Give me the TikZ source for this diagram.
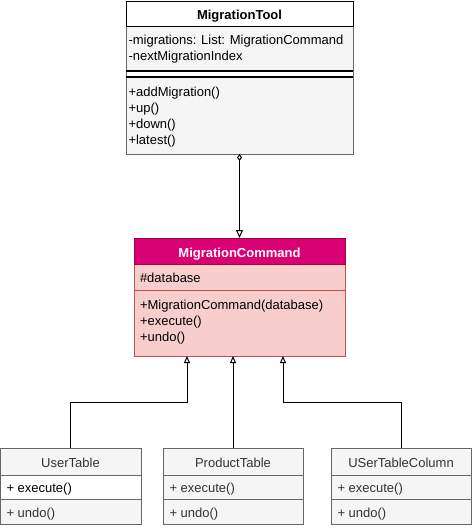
\documentclass[tikz,border=0pt]{standalone}
\usepackage{fontspec}
\setmainfont{Liberation Sans}
\usetikzlibrary{arrows.meta}
\definecolor{grayfill}{HTML}{F5F5F5}
\definecolor{graystroke}{HTML}{666666}
\definecolor{graytext}{HTML}{333333}
\definecolor{magfill}{HTML}{D80073}
\definecolor{magstroke}{HTML}{A50040}
\definecolor{pinkfill}{HTML}{F8CECC}
\definecolor{redstroke}{HTML}{B85450}
\begin{document}
\begin{tikzpicture}[x=1pt,y=-1pt,line width=1pt,
  txt/.style={anchor=base west,inner sep=0pt,font=\fontsize{13}{15}\selectfont},
  ttl/.style={anchor=base,inner sep=0pt,font=\fontsize{13}{15}\selectfont},
  boxnode/.style={inner sep=0pt,outer sep=0pt,anchor=north west},
  graysec/.style={fill=grayfill,draw=graystroke},
  inhtip/.style={-{Triangle[open,length=7pt,width=6pt]}},
  conn/.style={draw=black,line width=1pt}]
\path[use as bounding box,fill=white] (0,0) rectangle (473,528);

% ---------- MigrationTool ----------
\node[boxnode,minimum width=227pt,minimum height=153pt] (tool) at (126,1) {};
\draw[draw=graystroke,fill=white] (126,26) rectangle (353,154);
\draw[graysec] (126,26) rectangle (353,71);
\draw[graysec] (126,77) rectangle (353,154);
\draw[draw=black,line width=1.3pt] (126,71) -- (353,71);
\draw[draw=black,line width=1.3pt] (126,77) -- (353,77);
\draw[draw=black,fill=white] (126,1) rectangle (353,26);
\node[ttl,font=\fontsize{13}{15}\selectfont\bfseries] (tooltitle) at (239.5,19) {MigrationTool};
\node[txt] (toola1) at (128,44) {-migrations: List: MigrationCommand};
\node[txt] (toola2) at (128,60) {-nextMigrationIndex};
\node[txt] (toolm1) at (128,96) {+addMigration()};
\node[txt] (toolm2) at (128,112) {+up()};
\node[txt] (toolm3) at (128,128) {+down()};
\node[txt] (toolm4) at (128,144) {+latest()};

% ---------- MigrationCommand ----------
\node[boxnode,minimum width=211pt,minimum height=118pt] (cmd) at (134,238) {};
\draw[fill=pinkfill,draw=redstroke] (134,264) rectangle (345,356);
\draw[draw=redstroke] (134,290) -- (345,290);
\draw[fill=magfill,draw=magstroke] (134,238) rectangle (345,264);
\node[ttl,text=white,font=\fontsize{13}{15}\selectfont\bfseries] (cmdtitle) at (239.5,257) {MigrationCommand};
\node[txt] (cmda1) at (139.5,282.5) {\#database};
\node[txt] (cmdm1) at (139.5,309) {+MigrationCommand(database)};
\node[txt] (cmdm2) at (139.5,325) {+execute()};
\node[txt] (cmdm3) at (139.5,341) {+undo()};

% ---------- UserTable ----------
\node[boxnode,minimum width=141pt,minimum height=76pt] (ut) at (0,448) {};
\draw[graysec] (0,448) rectangle (141,475);
\draw[draw=graystroke,fill=white] (0,475) rectangle (141,499);
\draw[graysec] (0,499) rectangle (141,524);
\node[ttl,text=graytext] (uttitle) at (70.5,467) {UserTable};
\node[txt,text=black] (utm1) at (6,492.5) {+ execute()};
\node[txt,text=graytext] (utm2) at (6,517) {+ undo()};

% ---------- ProductTable ----------
\node[boxnode,minimum width=140pt,minimum height=76pt] (pt) at (163,448) {};
\draw[graysec] (163,448) rectangle (303,475);
\draw[graysec] (163,475) rectangle (303,499);
\draw[graysec] (163,499) rectangle (303,524);
\node[ttl,text=graytext] (pttitle) at (233,467) {ProductTable};
\node[txt,text=graytext] (ptm1) at (169,492.5) {+ execute()};
\node[txt,text=graytext] (ptm2) at (169,517) {+ undo()};

% ---------- USerTableColumn ----------
\node[boxnode,minimum width=140pt,minimum height=76pt] (uc) at (331,448) {};
\draw[graysec] (331,448) rectangle (471,475);
\draw[graysec] (331,475) rectangle (471,499);
\draw[graysec] (331,499) rectangle (471,524);
\node[ttl,text=graytext] (uctitle) at (401,467) {USerTableColumn};
\node[txt,text=graytext] (ucm1) at (337,492.5) {+ execute()};
\node[txt,text=graytext] (ucm2) at (337,517) {+ undo()};

% ---------- connectors ----------
\draw[conn,{Diamond[open,length=7pt,width=5pt]}-{Triangle[open,length=8pt,width=7pt]}] (tool.south) -- (cmd.north);
\draw[conn,inhtip] (ut.north) -- ++(0,-46) -| ([xshift=-52.5pt]cmd.south);
\draw[conn,inhtip] (pt.north) -- ([xshift=-6.5pt]cmd.south);
\draw[conn,inhtip] (uc.north) -- ++(0,-46) -| ([xshift=43.5pt]cmd.south);
\end{tikzpicture}
\end{document}
